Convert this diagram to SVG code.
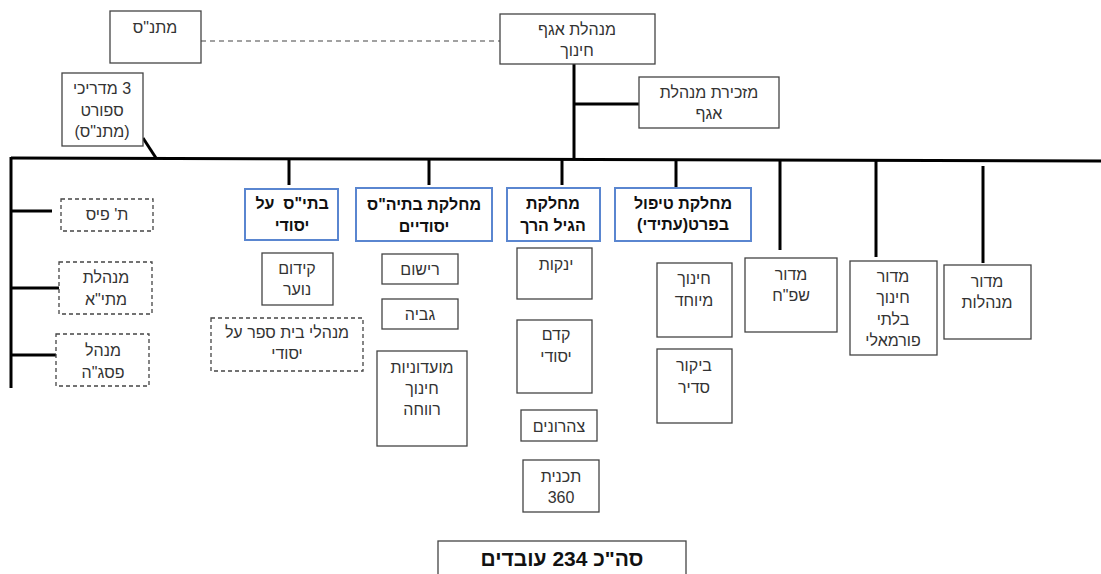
<svg xmlns="http://www.w3.org/2000/svg" width="1101" height="574" viewBox="0 0 1101 574">
<style>
text{font-family:"Liberation Sans",Arial,sans-serif;font-size:16px;fill:#333;text-anchor:middle;direction:rtl}
.b{font-weight:bold;fill:#111}
.box{fill:#fff;stroke:#444;stroke-width:1.3}
.blue{fill:#fff;stroke:#5a86d0;stroke-width:2}
.dash{fill:#fff;stroke:#444;stroke-width:1.3;stroke-dasharray:4 3}
.con{stroke:#000;stroke-width:3;fill:none}
.dl{stroke:#444;stroke-width:1.2;stroke-dasharray:5 4;fill:none}
</style>
<rect width="1101" height="574" fill="#fff"/>
<g id="connectors">
<line class="dl" x1="201" y1="41" x2="500" y2="41"/>
<line class="con" x1="574" y1="64" x2="574" y2="159"/>
<line class="con" x1="574" y1="104" x2="639" y2="104"/>
<line class="con" x1="11" y1="158" x2="1101" y2="161"/>
<line class="con" x1="143" y1="138" x2="156" y2="158"/>
<line class="con" x1="11" y1="157" x2="11" y2="388"/>
<line class="con" x1="11" y1="211" x2="52" y2="211"/>
<line class="con" x1="11" y1="288" x2="59" y2="288"/>
<line class="con" x1="11" y1="355" x2="56" y2="355"/>
<line class="con" x1="289" y1="159" x2="289" y2="185"/>
<line class="con" x1="429" y1="159" x2="429" y2="185"/>
<line class="con" x1="562" y1="159" x2="562" y2="185"/>
<line class="con" x1="676" y1="159" x2="676" y2="187"/>
<line class="con" x1="780" y1="160" x2="780" y2="250"/>
<line class="con" x1="876" y1="160" x2="876" y2="257"/>
<line class="con" x1="983" y1="166" x2="983" y2="263"/>
</g>
<g id="n-matnas"><rect class="box" x="110" y="11" width="91" height="52"/><text x="155" y="33">מתנ"ס</text></g>
<g id="n-head"><rect class="box" x="500" y="14" width="155" height="50"/><text x="577" y="35">מנהלת אגף</text><text x="577" y="56">חינוך</text></g>
<g id="n-secretary"><rect class="box" x="639" y="77" width="140" height="51"/><text x="709" y="98">מזכירת מנהלת</text><text x="709" y="119">אגף</text></g>
<g id="n-sport"><rect class="box" x="62" y="73" width="81" height="73"/><text x="102" y="94">3 מדריכי</text><text x="102" y="116">ספורט</text><text x="102" y="137">(מתנ"ס)</text></g>
<g id="n-pais"><rect class="dash" x="61" y="199" width="92" height="32"/><text x="107" y="220">ת' פיס</text></g>
<g id="n-matia"><rect class="dash" x="59" y="262" width="93" height="52"/><text x="106" y="283">מנהלת</text><text x="106" y="305">מתי"א</text></g>
<g id="n-psagah"><rect class="dash" x="56" y="334" width="93" height="52"/><text x="103" y="356">מנהל</text><text x="103" y="378">פסג"ה</text></g>
<g id="n-high"><rect class="blue" x="245" y="189" width="93" height="51"/><text class="b" x="292" y="209" xml:space="preserve">בתי"ס  על</text><text class="b" x="292" y="231">יסודי</text></g>
<g id="n-youth"><rect class="box" x="262" y="253" width="71" height="52"/><text x="297" y="274">קידום</text><text x="297" y="295">נוער</text></g>
<g id="n-principals"><rect class="dash" x="211" y="318" width="152" height="53"/><text x="287" y="338">מנהלי בית ספר על</text><text x="287" y="359">יסודי</text></g>
<g id="n-elem"><rect class="blue" x="356" y="188" width="136" height="53"/><text class="b" x="424" y="210">מחלקת בתיה"ס</text><text class="b" x="424" y="232">יסודיים</text></g>
<g id="n-reg"><rect class="box" x="382" y="254" width="76" height="30"/><text x="420" y="275">רישום</text></g>
<g id="n-collect"><rect class="box" x="382" y="299" width="76" height="30"/><text x="420" y="320">גביה</text></g>
<g id="n-clubs"><rect class="box" x="377" y="351" width="90" height="95"/><text x="422" y="373">מועדוניות</text><text x="422" y="394">חינוך</text><text x="422" y="415">רווחה</text></g>
<g id="n-early"><rect class="blue" x="507" y="188" width="93" height="53"/><text class="b" x="553" y="209">מחלקת</text><text class="b" x="553" y="231">הגיל הרך</text></g>
<g id="n-infants"><rect class="box" x="517" y="248" width="75" height="51"/><text x="556" y="270">ינקות</text></g>
<g id="n-preschool"><rect class="box" x="517" y="320" width="75" height="73"/><text x="556" y="340">קדם</text><text x="556" y="362">יסודי</text></g>
<g id="n-afternoon"><rect class="box" x="521" y="410" width="76" height="31"/><text x="559" y="432">צהרונים</text></g>
<g id="n-360"><rect class="box" x="523" y="460" width="76" height="52"/><text x="561" y="482">תכנית</text><text x="561" y="503">360</text></g>
<g id="n-care"><rect class="blue" x="615" y="188" width="136" height="53"/><text class="b" x="683" y="209">מחלקת טיפול</text><text class="b" x="683" y="230">בפרט(עתידי)</text></g>
<g id="n-special"><rect class="box" x="657" y="263" width="75" height="74"/><text x="694" y="284">חינוך</text><text x="694" y="306">מיוחד</text></g>
<g id="n-attend"><rect class="box" x="657" y="349" width="75" height="74"/><text x="694" y="371">ביקור</text><text x="694" y="393">סדיר</text></g>
<g id="n-psych"><rect class="box" x="745" y="258" width="92" height="74"/><text x="791" y="280">מדור</text><text x="791" y="301">שפ"ח</text></g>
<g id="n-informal"><rect class="box" x="850" y="261" width="87" height="94"/><text x="893" y="282">מדור</text><text x="893" y="303">חינוך</text><text x="893" y="325">בלתי</text><text x="893" y="346">פורמאלי</text></g>
<g id="n-admin"><rect class="box" x="944" y="265" width="87" height="74"/><text x="987" y="287">מדור</text><text x="987" y="308">מנהלות</text></g>
<g id="n-total"><rect class="box" x="438" y="541" width="248" height="40"/><text class="b" x="562" y="566" style="font-size:21px">סה"כ 234 עובדים</text></g>
</svg>
